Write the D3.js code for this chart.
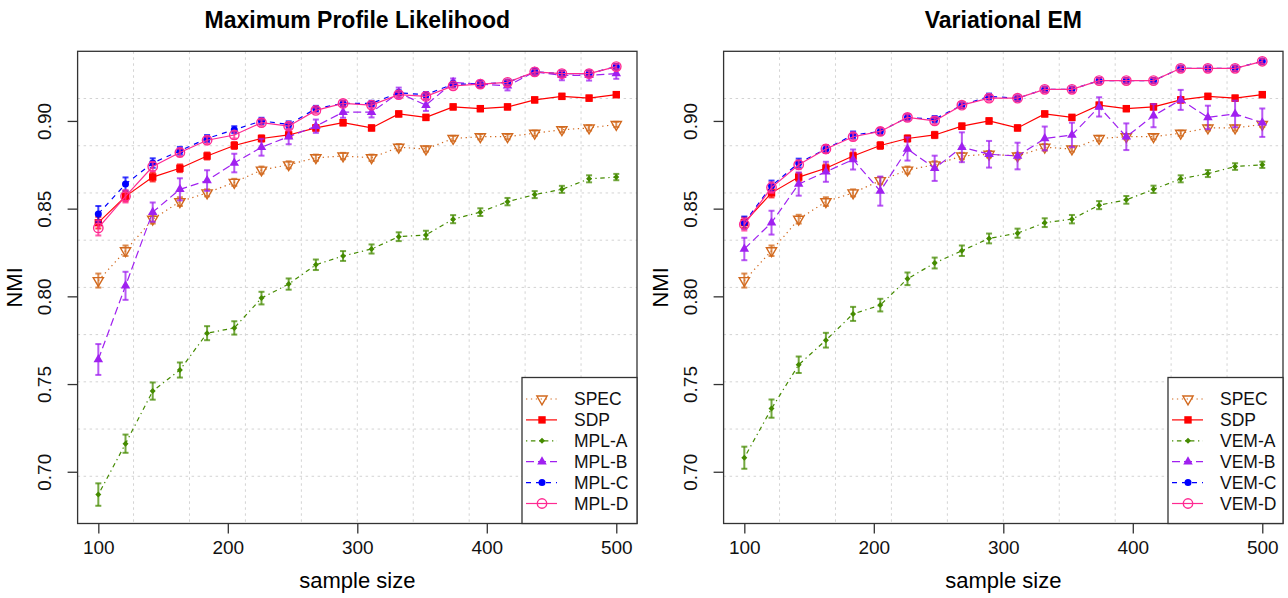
<!DOCTYPE html>
<html>
<head>
<meta charset="utf-8">
<script src="https://cdn.jsdelivr.net/npm/d3@7"></script>
<style>
  body { margin: 0; background: #fff; }
  svg { display: block; font-family: "Liberation Sans", Arial, sans-serif; }
</style>
</head>
<body>
<svg width="1288" height="598"></svg>
<script>
// sample sizes on the x axis
var sampleSize = [100, 121, 142, 163, 184, 205, 226, 247, 268, 289, 311, 332, 353, 374, 395, 416, 437, 458, 479, 500];
var xTicks = [100, 200, 300, 400, 500];
var yTicks = [0.70, 0.75, 0.80, 0.85, 0.90];

// left panel: Maximum Profile Likelihood
var mplSpec = [0.809, 0.826, 0.844, 0.854, 0.859, 0.865, 0.872, 0.875, 0.879, 0.880, 0.879, 0.885, 0.884, 0.890, 0.891, 0.891, 0.893, 0.895, 0.896, 0.898];
var mplSdp  = [0.842, 0.857, 0.868, 0.873, 0.880, 0.886, 0.890, 0.892, 0.896, 0.899, 0.896, 0.904, 0.902, 0.908, 0.907, 0.908, 0.912, 0.914, 0.913, 0.915];
var mplA    = [0.687, 0.716, 0.746, 0.758, 0.779, 0.782, 0.799, 0.807, 0.818, 0.823, 0.827, 0.834, 0.835, 0.844, 0.848, 0.854, 0.858, 0.861, 0.867, 0.868];
var mplB    = [0.764, 0.806, 0.848, 0.861, 0.866, 0.876, 0.885, 0.891, 0.897, 0.905, 0.905, 0.916, 0.909, 0.922, 0.921, 0.920, 0.928, 0.926, 0.926, 0.927];
var mplC    = [0.847, 0.864, 0.876, 0.883, 0.890, 0.895, 0.900, 0.898, 0.907, 0.910, 0.910, 0.916, 0.915, 0.921, 0.921, 0.922, 0.928, 0.927, 0.927, 0.931];
var mplD    = [0.839, 0.857, 0.874, 0.882, 0.889, 0.892, 0.899, 0.897, 0.906, 0.910, 0.909, 0.915, 0.914, 0.920, 0.921, 0.922, 0.928, 0.927, 0.927, 0.931];

var mplSpecErr = [0.004, 0.003, 0.0025, 0.0025, 0.002, 0.002, 0.002, 0.002, 0.0018, 0.0018, 0.0018, 0.0018, 0.0015, 0.0015, 0.0015, 0.0015, 0.0015, 0.0015, 0.0015, 0.0015];
var mplSdpErr  = [0.0033, 0.0028, 0.0025, 0.0022, 0.002, 0.002, 0.0018, 0.0018, 0.0016, 0.0016, 0.0015, 0.0015, 0.0015, 0.0015, 0.0015, 0.0015, 0.0015, 0.0015, 0.0015, 0.0015];
var mplAErr    = [0.0064, 0.0052, 0.0049, 0.0043, 0.004, 0.0038, 0.0036, 0.0032, 0.003, 0.0028, 0.0026, 0.0025, 0.0024, 0.0023, 0.0022, 0.0021, 0.002, 0.002, 0.002, 0.0018];
var mplBErr    = [0.0088, 0.008, 0.0055, 0.0063, 0.0059, 0.0053, 0.0048, 0.0043, 0.0038, 0.0032, 0.003, 0.003, 0.0033, 0.0022, 0.002, 0.0026, 0.002, 0.0028, 0.003, 0.003];
var mplCErr    = [0.0045, 0.0038, 0.0027, 0.0022, 0.002, 0.002, 0.0018, 0.0018, 0.0016, 0.0016, 0.0015, 0.0015, 0.0015, 0.0015, 0.0015, 0.0015, 0.0015, 0.0015, 0.0015, 0.0015];
var mplDErr    = [0.0043, 0.0035, 0.0027, 0.0022, 0.002, 0.002, 0.0018, 0.0018, 0.0016, 0.0016, 0.0015, 0.0015, 0.0015, 0.0015, 0.0015, 0.0015, 0.0015, 0.0015, 0.0015, 0.0015];

// right panel: Variational EM
var vemSpec = [0.809, 0.826, 0.844, 0.854, 0.859, 0.866, 0.872, 0.875, 0.880, 0.881, 0.880, 0.885, 0.884, 0.890, 0.891, 0.891, 0.893, 0.896, 0.896, 0.898];
var vemSdp  = [0.842, 0.859, 0.868, 0.873, 0.880, 0.886, 0.890, 0.892, 0.897, 0.900, 0.896, 0.904, 0.902, 0.909, 0.907, 0.908, 0.912, 0.914, 0.913, 0.915];
var vemA    = [0.708, 0.736, 0.761, 0.775, 0.790, 0.795, 0.810, 0.819, 0.826, 0.833, 0.836, 0.842, 0.844, 0.852, 0.855, 0.861, 0.867, 0.870, 0.874, 0.875];
var vemB    = [0.827, 0.842, 0.864, 0.871, 0.878, 0.860, 0.884, 0.873, 0.885, 0.881, 0.880, 0.890, 0.892, 0.908, 0.891, 0.903, 0.912, 0.902, 0.904, 0.899];
var vemC    = [0.842, 0.863, 0.876, 0.884, 0.892, 0.894, 0.902, 0.901, 0.909, 0.914, 0.913, 0.918, 0.918, 0.923, 0.923, 0.923, 0.930, 0.930, 0.930, 0.934];
var vemD    = [0.841, 0.862, 0.875, 0.884, 0.891, 0.894, 0.902, 0.900, 0.909, 0.913, 0.913, 0.918, 0.918, 0.923, 0.923, 0.923, 0.930, 0.930, 0.930, 0.934];

var vemSpecErr = mplSpecErr;
var vemSdpErr  = [0.003, 0.0026, 0.0024, 0.0022, 0.002, 0.002, 0.0018, 0.0018, 0.0016, 0.0016, 0.0015, 0.0015, 0.0015, 0.0015, 0.0015, 0.0015, 0.0015, 0.0015, 0.0015, 0.0015];
var vemAErr    = [0.0063, 0.0052, 0.0047, 0.0042, 0.004, 0.0036, 0.0036, 0.0031, 0.003, 0.0028, 0.0026, 0.0025, 0.0024, 0.0023, 0.0022, 0.0021, 0.002, 0.002, 0.0019, 0.0018];
var vemBErr    = [0.0064, 0.0068, 0.0066, 0.0057, 0.0057, 0.0083, 0.0066, 0.0072, 0.0085, 0.0076, 0.0076, 0.0068, 0.007, 0.0055, 0.0076, 0.0066, 0.0057, 0.0067, 0.0076, 0.0081];
var vemCErr    = [0.0035, 0.003, 0.0025, 0.0022, 0.002, 0.002, 0.0018, 0.0018, 0.0016, 0.0016, 0.0015, 0.0015, 0.0015, 0.0015, 0.0015, 0.0015, 0.0015, 0.0015, 0.0015, 0.0015];
var vemDErr    = vemCErr;

var colSpec = "#D2691E", colSdp = "#FF0000", colA = "#458B00",
    colB = "#A020F0", colC = "#0000FF", colD = "#FF2A92";

function makeSeries(names, vals, errs) {
    var styles = [
        { color: colSpec, dash: "1.3,3.6", shape: "downOpen" },
        { color: colSdp,  dash: null,      shape: "square" },
        { color: colA,    dash: "1.3,3.6,4.5,3.6", shape: "diamond" },
        { color: colB,    dash: "8,4",     shape: "upFilled" },
        { color: colC,    dash: "5,5",     shape: "dot" },
        { color: colD,    dash: null,      shape: "circleOpen" }
    ];
    return names.map(function(n, i) {
        return { name: n, values: vals[i], err: errs[i], color: styles[i].color,
                 dash: styles[i].dash, shape: styles[i].shape };
    });
}

var panels = [
    { title: "Maximum Profile Likelihood", left: 77.6, right: 637,
      series: makeSeries(["SPEC", "SDP", "MPL-A", "MPL-B", "MPL-C", "MPL-D"],
                         [mplSpec, mplSdp, mplA, mplB, mplC, mplD],
                         [mplSpecErr, mplSdpErr, mplAErr, mplBErr, mplCErr, mplDErr]) },
    { title: "Variational EM", left: 723.6, right: 1283,
      series: makeSeries(["SPEC", "SDP", "VEM-A", "VEM-B", "VEM-C", "VEM-D"],
                         [vemSpec, vemSdp, vemA, vemB, vemC, vemD],
                         [vemSpecErr, vemSdpErr, vemAErr, vemBErr, vemCErr, vemDErr]) }
];

var svg = d3.select("svg");
var plotTop = 51.3, plotBottom = 523.5;

function drawMarker(g, shape, color, cx, cy) {
    var r;
    if (shape === "downOpen") {
        r = 5.9;
        g.append("path")
            .attr("d", "M" + (cx - 0.866 * r) + "," + (cy - r / 2) + "L" + (cx + 0.866 * r) + "," + (cy - r / 2) + "L" + cx + "," + (cy + r) + "Z")
            .attr("fill", "none").attr("stroke", color).attr("stroke-width", 1.4);
    } else if (shape === "upFilled") {
        r = 5.5;
        g.append("path")
            .attr("d", "M" + (cx - 0.866 * r) + "," + (cy + r / 2) + "L" + (cx + 0.866 * r) + "," + (cy + r / 2) + "L" + cx + "," + (cy - r) + "Z")
            .attr("fill", color);
    } else if (shape === "square") {
        g.append("rect").attr("x", cx - 3.7).attr("y", cy - 3.7)
            .attr("width", 7.4).attr("height", 7.4).attr("fill", color);
    } else if (shape === "diamond") {
        g.append("path")
            .attr("d", "M" + cx + "," + (cy - 3) + "L" + (cx + 3) + "," + cy + "L" + cx + "," + (cy + 3) + "L" + (cx - 3) + "," + cy + "Z")
            .attr("fill", color);
    } else if (shape === "dot") {
        g.append("circle").attr("cx", cx).attr("cy", cy).attr("r", 3.5).attr("fill", color);
    } else if (shape === "circleOpen") {
        g.append("circle").attr("cx", cx).attr("cy", cy).attr("r", 4.7)
            .attr("fill", "none").attr("stroke", color).attr("stroke-width", 1.4);
    }
}

panels.forEach(function(p) {
    var x = d3.scaleLinear().domain([84, 516]).range([p.left, p.right]);
    var y = d3.scaleLinear().domain([0.6705, 0.9397]).range([plotBottom, plotTop]);
    var g = svg.append("g");

    // grid(10, 10)
    var gw = (p.right - p.left) / 10, gh = (plotBottom - plotTop) / 10;
    for (var k = 1; k < 10; k++) {
        g.append("line").attr("x1", p.left + k * gw).attr("x2", p.left + k * gw)
            .attr("y1", plotTop).attr("y2", plotBottom)
            .attr("stroke", "#d3d3d3").attr("stroke-dasharray", "2.5,3.5");
        g.append("line").attr("x1", p.left).attr("x2", p.right)
            .attr("y1", plotTop + k * gh).attr("y2", plotTop + k * gh)
            .attr("stroke", "#d3d3d3").attr("stroke-dasharray", "2.5,3.5");
    }

    // series
    p.series.forEach(function(s) {
        var pts = sampleSize.map(function(n, i) { return { n: n, v: s.values[i], e: s.err[i] }; });
        var line = d3.line().x(function(d) { return x(d.n); }).y(function(d) { return y(d.v); });
        g.append("path").datum(pts).attr("d", line)
            .attr("fill", "none").attr("stroke", s.color).attr("stroke-width", 1.2)
            .attr("stroke-dasharray", s.dash);

        var eb = g.append("g").attr("stroke", s.color).attr("stroke-opacity", 0.75).attr("stroke-width", 2);
        pts.forEach(function(d) {
            var cx = x(d.n), y0 = y(d.v - d.e), y1 = y(d.v + d.e);
            eb.append("line").attr("x1", cx).attr("x2", cx).attr("y1", y0).attr("y2", y1);
            eb.append("line").attr("x1", cx - 3).attr("x2", cx + 3).attr("y1", y0).attr("y2", y0);
            eb.append("line").attr("x1", cx - 3).attr("x2", cx + 3).attr("y1", y1).attr("y2", y1);
        });
        pts.forEach(function(d) { drawMarker(g, s.shape, s.color, x(d.n), y(d.v)); });
    });

    // frame
    g.append("rect").attr("x", p.left).attr("y", plotTop)
        .attr("width", p.right - p.left).attr("height", plotBottom - plotTop)
        .attr("fill", "none").attr("stroke", "#333").attr("stroke-width", 1.3);

    // axes
    var xa = g.append("g").attr("transform", "translate(0," + plotBottom + ")")
        .call(d3.axisBottom(x).tickValues(xTicks).tickSize(10).tickSizeOuter(0));
    xa.select(".domain").remove();
    xa.selectAll(".tick line").attr("stroke", "#333").attr("stroke-width", 1.3);
    xa.selectAll(".tick text").attr("y", 30).attr("dy", 0)
        .attr("font-size", 19).attr("font-family", "Liberation Sans, Arial, sans-serif").attr("fill", "#111");

    var ya = g.append("g").attr("transform", "translate(" + p.left + ",0)")
        .call(d3.axisLeft(y).tickValues(yTicks).tickFormat(d3.format(".2f")).tickSize(10).tickSizeOuter(0));
    ya.select(".domain").remove();
    ya.selectAll(".tick line").attr("stroke", "#333").attr("stroke-width", 1.3);
    ya.selectAll(".tick text")
        .attr("x", null).attr("dy", null)
        .attr("transform", "translate(-27,0) rotate(-90)")
        .attr("text-anchor", "middle").attr("y", 0)
        .attr("font-size", 19).attr("font-family", "Liberation Sans, Arial, sans-serif").attr("fill", "#111");

    // titles
    var cx = (p.left + p.right) / 2;
    g.append("text").attr("x", cx).attr("y", 28).attr("text-anchor", "middle")
        .attr("font-size", 23).attr("font-weight", "bold").text(p.title);
    g.append("text").attr("x", cx).attr("y", 588).attr("text-anchor", "middle")
        .attr("font-size", 22).text("sample size");
    g.append("text").attr("transform", "translate(" + (p.left - 56) + "," + ((plotTop + plotBottom) / 2) + ") rotate(-90)")
        .attr("text-anchor", "middle").attr("font-size", 22).text("NMI");

    // legend
    var lw = 115, lh = 146, lx = p.right - lw, ly = plotBottom - lh;
    var lg = g.append("g");
    lg.append("rect").attr("x", lx).attr("y", ly).attr("width", lw).attr("height", lh)
        .attr("fill", "#fff").attr("stroke", "#333").attr("stroke-width", 1.3);
    p.series.forEach(function(s, i) {
        var ry = ly + 21.5 + i * 20.9;
        lg.append("line").attr("x1", lx + 4).attr("x2", lx + 35).attr("y1", ry).attr("y2", ry)
            .attr("stroke", s.color).attr("stroke-width", 1.2).attr("stroke-dasharray", s.dash);
        drawMarker(lg, s.shape, s.color, lx + 20, ry);
        lg.append("text").attr("x", lx + 52).attr("y", ry + 6.3)
            .attr("font-size", 17.5).attr("fill", "#111").text(s.name);
    });
});
</script>
</body>
</html>
